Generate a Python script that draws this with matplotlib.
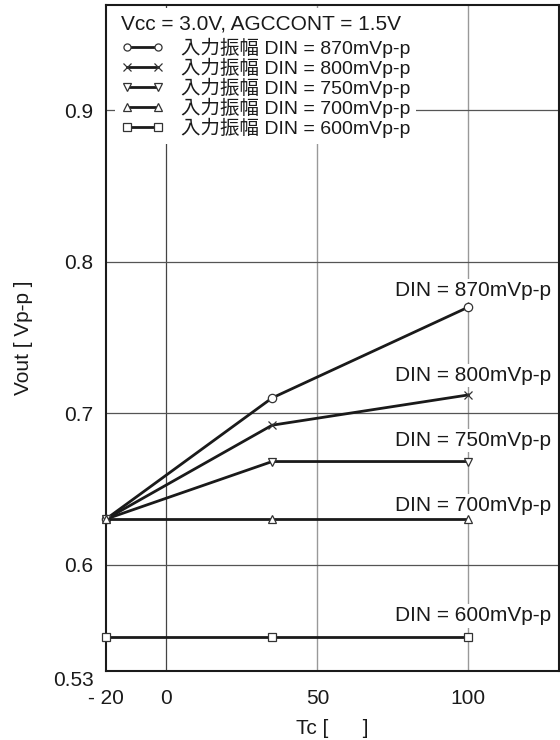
import matplotlib
matplotlib.use("Agg")
import matplotlib.pyplot as plt

plt.rcParams['font.family'] = ['Liberation Sans', 'Noto Sans CJK JP']

# ---- data ----
temps = [-20, 35, 100]
din_values = ['870', '800', '750', '700', '600']
vout_870 = [0.630, 0.710, 0.770]
vout_800 = [0.630, 0.692, 0.712]
vout_750 = [0.630, 0.668, 0.668]
vout_700 = [0.630, 0.630, 0.630]
vout_600 = [0.552, 0.552, 0.552]
series = [vout_870, vout_800, vout_750, vout_700, vout_600]
markers = ['o', 'x', 'v', '^', 's']

xticks = [-20, 0, 50, 100]
xticklabels = ['- 20', '0', '50', '100']
yticks = [0.53, 0.6, 0.7, 0.8, 0.9]
yticklabels = ['0.53', '0.6', '0.7', '0.8', '0.9']

# label anchor positions (data coords)
label_x = 127.4
label_y = [0.781, 0.725, 0.682, 0.639, 0.566]

FS = 15
LFS = 14

fig = plt.figure(figsize=(5.6, 7.4), dpi=100)
ax = fig.add_axes([106/560, 1 - 670.5/740, 453/560, 665.5/740])
ax.set_xlim(-20, 130)
ax.set_ylim(0.53, 0.9695)

# grid
ax.axvline(0, color='#444444', lw=0.9, zorder=0.5)
for gx in [50, 100]:
    ax.axvline(gx, color='#999999', lw=1.0, zorder=0.5)
for gy in [0.6, 0.7, 0.8, 0.9]:
    ax.axhline(gy, color='#555555', lw=0.9, zorder=0.5)

handles = []
for vals, m in zip(series, markers):
    ln, = ax.plot(temps, vals, color='#1a1a1a', lw=2.0, marker=m, ms=6,
                  mfc='white', mec='#333333', mew=0.9, zorder=3, clip_on=False)
    handles.append(ln)

for d, yy in zip(din_values, label_y):
    ax.text(label_x, yy, f'DIN = {d}mVp-p', ha='right', va='center',
            fontsize=FS, color='#1a1a1a', zorder=2,
            bbox=dict(fc='white', ec='none', pad=1.5))

labels = [f'入力振幅 DIN = {d}mVp-p' for d in din_values]
leg = ax.legend(handles, labels, title='Vcc = 3.0V, AGCCONT = 1.5V',
                loc='upper left', bbox_to_anchor=(0.02, 0.995),
                frameon=True, fancybox=False, edgecolor='none',
                facecolor='white', framealpha=1, fontsize=LFS,
                title_fontsize=FS, numpoints=2, handlelength=2.2,
                handletextpad=0.9, labelspacing=0.0, borderpad=0.3,
                borderaxespad=0, alignment='left', markerscale=0.85)
leg._legend_box.sep = 3
for t in leg.get_texts():
    t.set_color('#1a1a1a')
leg.get_title().set_color('#1a1a1a')

ax.set_xticks(xticks)
ax.set_xticklabels(xticklabels)
ax.set_yticks(yticks)
ax.set_yticklabels(yticklabels)
ax.tick_params(axis='both', length=0, labelsize=FS, labelcolor='#1a1a1a')
ax.tick_params(axis='y', pad=9)
ax.tick_params(axis='x', pad=13)
ax.get_yticklabels()[0].set_va('top')

ax.set_xlabel('Tc [      ]', fontsize=FS, color='#1a1a1a', labelpad=8)
ax.set_ylabel('Vout [ Vp-p ]', fontsize=FS, color='#1a1a1a', labelpad=14)

for s in ax.spines.values():
    s.set_linewidth(1.5)
    s.set_color('#1a1a1a')

fig.savefig('out.png', dpi=100)
